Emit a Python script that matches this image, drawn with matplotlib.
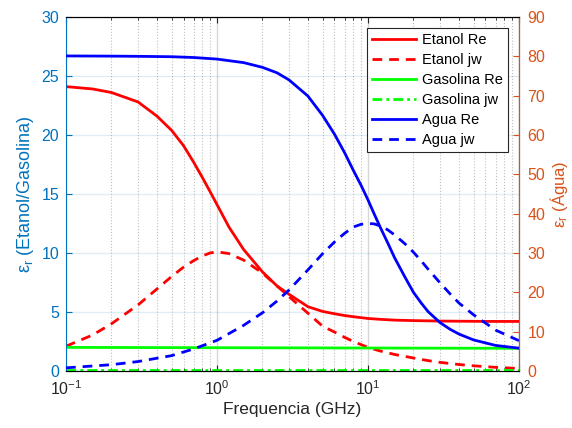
import matplotlib
matplotlib.use('Agg')
import matplotlib.pyplot as plt
from matplotlib.ticker import LogLocator, NullFormatter
import numpy as np

plt.rcParams['font.family'] = ['Liberation Sans', 'DejaVu Sans']

# valores (frequencia em GHz)
freq = [0.1, 0.15, 0.2, 0.3, 0.4, 0.5, 0.6, 0.7, 0.8, 0.9, 1.0, 1.2, 1.5, 2.0, 2.5, 3.0,
        4.0, 5.0, 6.0, 7.0, 8.0, 10, 12, 15, 20, 25, 30, 40, 50, 70, 100]
et_re = [24.1, 23.9, 23.6, 22.8, 21.6, 20.4, 19.1, 17.7, 16.4, 15.2, 14.1, 12.2, 10.3, 8.4,
         7.2, 6.5, 5.45, 5.05, 4.85, 4.7, 4.6, 4.45, 4.38, 4.31, 4.27, 4.25, 4.23, 4.22, 4.21,
         4.2, 4.2]
et_jw = [2.1, 3.05, 4.0, 5.6, 6.95, 8.0, 8.8, 9.35, 9.75, 10.0, 10.1, 9.95, 9.4, 8.3, 7.2,
         6.3, 4.9, 3.8, 3.3, 2.85, 2.5, 2.0, 1.7, 1.4, 1.1, 0.88, 0.73, 0.55, 0.44, 0.31, 0.21]

f_gas = [0.1, 100]
gas_re = [2.0, 1.92]
gas_jw = [0.05, 0.05]

f_agua = [0.1, 0.2, 0.3, 0.5, 0.7, 1.0, 1.5, 2.0, 2.5, 3.0, 4.0, 5.0, 6.0, 7.0, 8.0, 9.0,
          10, 11, 12, 13.5, 15, 17.5, 20, 22.5, 25, 30, 35, 40, 50, 70, 100]
ag_re = [80.1, 80.05, 80.0, 79.9, 79.7, 79.3, 78.4, 77.2, 75.8, 74.0, 69.9, 65.0, 60.2,
         55.5, 51.0, 47.2, 43.5, 39.9, 36.7, 32.6, 28.8, 24.0, 20.0, 17.3, 15.1, 12.3,
         10.6, 9.4, 7.9, 6.5, 5.8]
ag_jw = [0.8, 1.6, 2.4, 3.9, 5.6, 7.8, 11.6, 14.8, 17.8, 20.6, 25.7, 29.8, 32.8, 35.0,
         36.6, 37.3, 37.5, 37.4, 36.9, 35.9, 34.6, 32.4, 30.2, 28.0, 25.9, 22.4, 19.6,
         17.3, 14.3, 10.4, 7.7]

left_col = '#0072BD'
right_col = '#D95319'
dark = '#262626'

fig = plt.figure(figsize=(5.72, 4.28), dpi=100)
ax = fig.add_axes([0.1154, 0.1332, 0.7919, 0.8271])
ax2 = ax.twinx()

lw = 2
h1, = ax.plot(freq, et_re, color='r', lw=lw, label='Etanol Re')
h2, = ax.plot(freq, et_jw, color='r', lw=lw, ls=(0, (3.5, 2.5)), label='Etanol jw')
h3, = ax.plot(f_gas, gas_re, color='#00FF00', lw=lw, label='Gasolina Re')
h4, = ax.plot(f_gas, gas_jw, color='#00FF00', lw=lw, ls=(0, (3.5, 1.5, 1, 1.5)), label='Gasolina jw')
h5, = ax2.plot(f_agua, ag_re, color='b', lw=lw, label='Agua Re')
h6, = ax2.plot(f_agua, ag_jw, color='b', lw=lw, ls=(0, (3.5, 2.5)), label='Agua jw')

ax.set_xscale('log')
ax.set_xlim(0.1, 100)
ax.set_ylim(0, 30)
ax.set_yticks(np.arange(0, 31, 5))
ax2.set_ylim(0, 90)
ax2.set_yticks(np.arange(0, 91, 10))

ax.xaxis.set_minor_locator(LogLocator(base=10, subs=np.arange(2, 10)))
ax.xaxis.set_minor_formatter(NullFormatter())

ax.grid(True, which='major', axis='y', color=left_col, alpha=0.12, lw=1)
ax.grid(True, which='major', axis='x', color='#b0b0b0', alpha=0.5, lw=1)
ax.grid(True, which='minor', axis='x', color='#b0b0b0', ls=':', lw=0.8, alpha=0.8)

ax.tick_params(axis='x', which='both', direction='in', top=True, colors=dark, labelsize=11.5, pad=6)
ax.tick_params(axis='x', which='major', length=4)
ax.tick_params(axis='x', which='minor', length=2)
ax.tick_params(axis='y', direction='in', colors=left_col, labelsize=11.5, length=4, pad=5)
ax2.tick_params(axis='y', direction='in', colors=right_col, labelsize=11.5, length=4, pad=6)

ax.spines['left'].set_color(left_col)
ax.spines['top'].set_color(dark)
ax.spines['bottom'].set_color(dark)
ax2.spines['right'].set_color(right_col)
ax2.spines['left'].set_visible(False)
for s in ax.spines.values():
    s.set_linewidth(0.8)
for s in ax2.spines.values():
    s.set_linewidth(0.8)

ax.set_xlabel('Frequencia (GHz)', fontsize=12.5, color=dark, labelpad=3)
ax.set_ylabel(r'$\mathregular{\epsilon_r}$ (Etanol/Gasolina)', fontsize=13, color=left_col, labelpad=4)
ax2.set_ylabel(r'$\mathregular{\epsilon_r}$ (Água)', fontsize=12, color=right_col, labelpad=2)

leg = ax2.legend(handles=[h1, h2, h3, h4, h5, h6], loc='upper right',
                 bbox_to_anchor=(0.975, 0.97), fontsize=10.5, fancybox=False,
                 edgecolor=dark, framealpha=1, handlelength=3.0,
                 borderaxespad=0, labelspacing=0.42, handletextpad=0.4, borderpad=0.35)
leg.get_frame().set_linewidth(0.8)

fig.savefig('out.png', dpi=100)
